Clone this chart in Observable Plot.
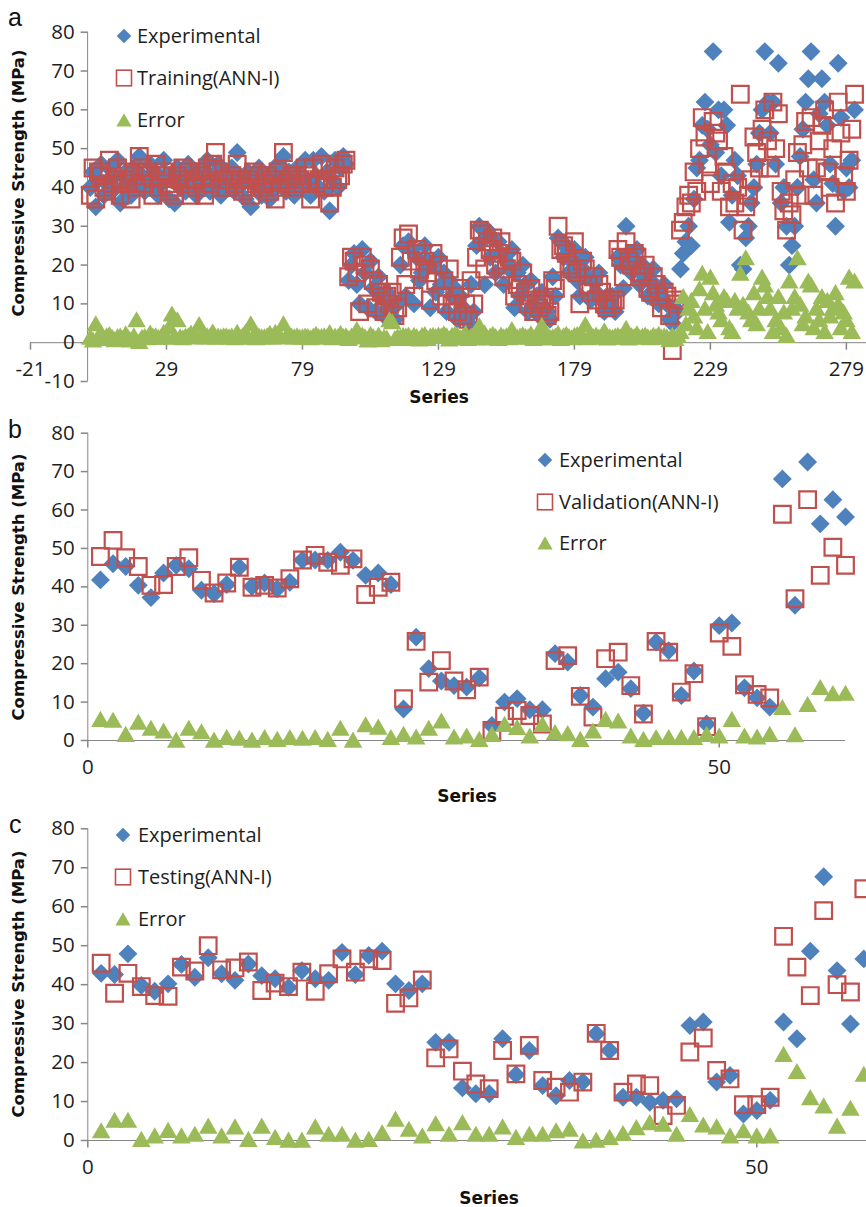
<!DOCTYPE html>
<html><head><meta charset="utf-8">
<script src="https://cdn.jsdelivr.net/npm/d3@7"></script>
<script src="https://cdn.jsdelivr.net/npm/@observablehq/plot@0.6"></script>
<style>
html,body{margin:0;padding:0;background:#fff;}
#wrap{position:relative;width:866px;height:1207px;overflow:hidden;background:#fff;}
.panel{position:absolute;left:0;}
#overlay{position:absolute;left:0;top:0;pointer-events:none;}
</style></head>
<body><div id="wrap"></div>
<script>
// ---------- Panel a : Training (ANN-I) ----------
const expA = [
40,44,35,42,46,38,41,45,39,43, 47,36,40,44,42,38,45,41,48,43, 39,42,46,40,44,38,41,47,43,37,
42,36,45,40,43,39,46,41,44,38, 42,45,40,47,39,43,41,46,38,44, 42,40,45,39,49,43,41,37,44,35,
42,40,45,38,43,41,37,44,40,46, 42,48,39,44,41,38,45,40,43,47, 41,38,47,43,40,48,39,44,34,42,
47,40,45,48,46,
16,20,23,15,10,24,18,9,21,14,8,17,12,7,13,9,11,6,10,
20,25,12,26,24,10,22,16,18,25,21,9,20,13,22,15,18,8,16,12,14,6,12,9,7,5,
15,8,25,30,26,15,29,22,27,18,26,23,15,21,19,24,9,18,12,20,15,8,16,10,12,7,13,9,8,6,
17,12,27,26,22,25,18,21,24,16,12,19,22,17,11,16,13,18,11,8,12,10,
12,8,22,20,14,30,23,18,21,24,15,20,17,12,16,19,14,10,12,15,10,6,5,9,
8,19,23,26,30,25,37,45,47,56,62,55,51,75,
49,60,43,60,56,31,38,47,43,20,19,27,30,36,40,46,54,60,75,62,
54,62,46,72,36,40,30,20,25,30,40,48,55,62,68,75,
42,36,59,68,62,56,46,41,30,72,58,39,45,40,47,60];
const trainA = [
38,45,37,44,43,40,39,47,41,42, 45,38,42,41,44,37,43,40,48,45, 41,44,43,38,46,40,43,44,41,39,
40,38,43,42,45,41,44,38,42,40, 44,43,38,45,41,46,49,44,40,42, 40,42,43,41,46,42,39,40,42,38,
44,41,43,40,41,43,39,42,37,44, 40,49,41,42,43,40,43,42,41,45, 43,37,45,41,42,46,40,42,36,40,
45,42,43,46,47,
17,22,21,18,8,22,20,10,19,16,9,15,13,8,12,10,13,7,9,
22,27,15,28,21,12,24,19,23,21,18,11,23,16,20,12,16,10,19,10,12,8,14,7,10,6,
16,10,22,29,28,19,26,24,27,20,23,26,17,19,22,21,12,15,14,18,13,10,14,8,11,9,10,11,7,8,
16,14,30,24,25,23,20,19,26,18,10,21,19,15,13,17,11,15,13,10,9,11,
10,11,24,22,17,26,21,20,23,22,17,18,20,14,13,17,15,12,9,13,12,7,-2,11,
10,29,31,35,38,36,44,39,50,58,53,46,41,57,
54,52,39,48,44,35,41,36,40,64,29,35,38,42,53,49,45,55,60,52,
45,62,50,59,39,34,29,36,33,42,49,38,51,57,45,58,
38,45,52,56,60,44,40,50,36,62,54,43,39,47,55,64];
const errA = [
1.5,0.8,5,1.8,2.5,1.2,1.9,2.2,1.5,0.9, 1.6,1.8,1.2,2.4,1.3,0.8,1.9,6,0.4,1.5, 1.7,1.4,2.6,1.8,1.9,1.5,1.6,2.8,1.5,4.2,
7.5,1.8,6,1.6,1.4,1.8,1.9,2.6,1.8,1.6, 4.8,1.8,1.6,1.9,1.7,2.9,1.5,1.8,1.6,1.9, 1.9,1.6,1.8,1.4,2.8,1.5,1.9,2.8,1.6,5,
1.9,1.4,1.8,1.6,1.6,1.9,2.5,1.6,2.8,1.8, 1.6,5,1.7,1.8,1.8,1.6,1.9,1.5,1.6,1.8, 1.7,1.4,1.8,2.3,1.6,1.7,1.9,1.6,2.7,1.4,
1.8,1.6,2.5,1.7,1.9,
1.2,1.8,2.2,3.5,2.0,2.1,1.6,0.8,2.3,1.7,1.1,2.1,0.9,1.5,1.3,6,5.5,1.2,1.6,
1.5,2.0,1.8,2.1,1.2,2.0,1.6,1.1,2.0,2.2,1.2,1.8,2.0,1.7,2.1,1.8,2.4,1.9,1.1,2.0,2.3,2.1,1.4,1.7,2.5,1.2,
1.8,2.2,1.4,4.5,1.9,2.6,1.3,1.8,2.3,1.7,1.2,2.1,1.6,1.9,1.4,3.5,2.0,1.5,1.8,2.2,1.7,1.6,2.4,1.2,1.9,1.6,4.6,1.8,1.3,1.5,
1.6,1.8,2.5,1.2,1.9,2.3,1.7,1.4,2.0,2.2,1.6,1.9,4.8,1.4,2.0,1.7,2.1,1.5,1.9,3.2,1.3,1.6,
1.5,1.8,2.0,1.6,2.2,3.8,1.3,1.9,1.7,2.4,1.5,1.8,2.1,1.6,1.4,2.0,1.7,2.3,1.5,1.8,1.6,0.9,2,1.2,
2,3,12,5,9,11,7,4,14,18,9,3,17,13,
10,8,6,12,11,4,3,11,9,18,10,22,8,6,13,5,9,17,15,12,
9,3,6,12,4,8,2,16,9,12,22,10,5,7,16,15,
4,9,6,12,3,11,7,9,13,10,4,8,6,17,3,16];
const seriesA = d3.range(1, expA.length + 1);
const xTicksA = [-21, 29, 79, 129, 179, 229, 279];
const yTicksA = [-10, 0, 10, 20, 30, 40, 50, 60, 70, 80];

// ---------- Panel b : Validation (ANN-I) ----------
const expB = [41.8,46.0,45.3,40.4,37.2,43.6,45.6,44.7,39.1,38.2, 40.6,45.1,40.1,41.0,39.5,41.2,47.0,47.0,46.9,49.0,
46.9,43.0,43.6,40.6,8.2,26.9,18.7,15.5,14.3,13.9, 16.3,3.9,10.0,10.9,8.0,8.0,22.6,20.4,11.7,8.7,
16.1,17.8,13.5,7.1,25.6,23.4,11.7,18.1,4.3,29.9, 30.6,13.7,11.1,8.7,68.1,35.2,72.5,56.4,62.7,58.2];
const valB = [47.9,52.1,47.6,45.3,40.4,40.6,45.3,47.6,41.7,38.4, 41.0,45.1,39.9,40.4,39.7,42.1,47.0,48.2,46.4,45.6,
47.3,38.0,39.9,41.2,10.9,25.8,15.2,20.8,15.5,13.2, 16.5,2.6,6.3,7.8,6.5,4.3,20.8,22.1,11.5,6.1,
21.3,23.0,14.3,6.9,25.8,23.0,12.6,17.4,3.6,28.0, 24.5,14.5,12.0,11.1,58.9,36.9,62.7,43.0,50.3,45.6];
const errB = [5.6,5.4,1.7,4.9,3.3,2.6,0.2,3.3,2.4,0.2, 0.9,0.7,0.2,0.9,0.4,0.9,0.7,0.9,0.4,3.3,
0.2,4.2,3.6,0.9,1.7,1.0,3.3,5.2,1.0,1.3, 0.4,1.7,4.3,3.5,1.3,4.3,2.2,1.9,0.4,2.6,
5.6,5.2,1.3,0.4,0.9,0.9,0.9,0.9,1.7,1.3, 5.6,1.3,1.0,1.7,8.7,1.6,9.5,13.9,12.3,12.4];
const seriesB = d3.range(1, expB.length + 1);
const xTicksB = [0, 50];
const yTicksB = [0, 10, 20, 30, 40, 50, 60, 70, 80];

// ---------- Panel c : Testing (ANN-I) ----------
const expC = [42.9,42.6,47.9,39.8,38.3,40.2,45.2,41.9,46.9,42.8, 41.1,45.3,42.3,41.5,39.3,43.6,41.5,41.1,48.3,42.6,
47.5,48.6,40.2,38.5,40.2,25.2,25.2,13.5,12.0,12.0, 26.1,16.9,23.1,14.1,11.5,15.4,15.0,27.4,23.1,11.1,
11.1,9.8,10.3,10.7,29.5,30.4,15.0,16.7,6.8,7.7, 10.3,30.4,26.1,48.6,67.7,43.6,29.9,46.6];
const testC = [45.5,37.8,42.9,39.5,37.2,37.0,44.5,43.5,50.0,43.8, 44.3,45.8,38.5,40.4,39.5,43.2,38.3,42.8,46.6,43.2,
46.6,46.2,35.2,36.6,41.2,21.2,23.5,17.8,14.5,13.3, 23.1,17.1,24.4,15.4,13.7,12.4,15.0,27.5,23.1,12.4,
14.5,14.1,6.4,9.0,22.7,26.3,18.0,15.8,9.2,9.2, 11.1,52.4,44.5,37.2,59.0,40.0,38.1,64.6];
const errC = [2.6,5.3,5.3,0.4,1.3,2.7,1.3,1.7,3.8,1.3, 3.6,0.4,3.8,0.9,0.2,0.2,3.6,1.7,1.7,0.2,
0.4,2.1,5.6,3.0,1.3,4.4,1.7,4.7,1.7,1.7, 3.6,0.9,1.7,1.7,2.6,3.0,0,0.2,0.9,1.9,
3.4,4.7,4.3,1.7,6.8,4.1,3.6,1.3,2.6,1.3, 1.3,22.2,17.8,11.1,9.0,3.8,8.4,17.1];
const seriesC = d3.range(1, expC.length + 1);
const xTicksC = [0, 50];
const yTicksC = [0, 10, 20, 30, 40, 50, 60, 70, 80];

// ---------- styles ----------
const BLUE = "#4F81BD", RED = "#C0504D", GREEN = "#9BBB59", AXIS = "#868686", INK = "#1e1e1e";
const TICKFONT = "'Open Sans', sans-serif";
const tickLeft = {draw(ctx) { ctx.moveTo(-7, 0); ctx.lineTo(0, 0); }};
const tickDown = {draw(ctx) { ctx.moveTo(0, 0); ctx.lineTo(0, 7); }};

function drawPanel(c) {
  const idx = d3.range(c.exp.length);
  return Plot.plot({
    width: 866, height: c.height,
    marginTop: c.mt, marginBottom: c.mb, marginLeft: c.ml, marginRight: c.mr,
    x: {domain: c.xDomain, axis: null},
    y: {domain: c.yDomain, axis: null},
    style: {background: "transparent", overflow: "hidden"},
    marks: [
      Plot.ruleX([0], {y1: c.yDomain[0], y2: c.yDomain[1], stroke: AXIS}),
      Plot.ruleY([0], {x1: c.xDomain[0], x2: c.xAxisEnd, stroke: AXIS}),
      Plot.dot(c.yTicks, {x: 0, y: d => d, symbol: tickLeft, r: 3, stroke: AXIS, fill: "none"}),
      Plot.dot(c.xTicks, {x: d => d, y: 0, symbol: tickDown, r: 3, stroke: AXIS, fill: "none"}),
      Plot.dot(idx, {x: i => c.series[i], y: i => c.exp[i], symbol: "diamond2", r: 8.5, fill: BLUE, stroke: "none"}),
      Plot.dot(idx, {x: i => c.series[i], y: i => c.pred[i], symbol: "square", r: 9.4, fill: "none", stroke: RED, strokeWidth: 2.2}),
      Plot.dot(idx, {x: i => c.series[i], y: i => c.err[i], symbol: "triangle", r: 6.9, fill: GREEN, stroke: "none", dy: 2.6}),
      Plot.text(c.yTicks, {x: 0, y: d => d, text: d => String(d), textAnchor: "end", lineAnchor: "middle", dx: -13,
        fontSize: 20.5, fontFamily: TICKFONT, fill: INK}),
      Plot.text(c.xTicks, {x: d => d, y: 0, text: d => String(d), lineAnchor: "middle", dy: 26.5,
        fontSize: 20.5, fontFamily: TICKFONT, fill: INK})
    ]
  });
}

const panels = [
  {top: 0, height: 400, mt: 31.7, mb: 19, ml: 30, mr: 0, xDomain: [-21, 286.4], yDomain: [-10, 80], xAxisEnd: 286.4,
   xTicks: xTicksA, yTicks: yTicksA, series: seriesA, exp: expA, pred: trainA, err: errA},
  {top: 400, height: 405, mt: 32.7, mb: 65, ml: 87.3, mr: 21, xDomain: [0, 60], yDomain: [0, 80], xAxisEnd: 60,
   xTicks: xTicksB, yTicks: yTicksB, series: seriesB, exp: expB, pred: valB, err: errB},
  {top: 805, height: 402, mt: 23.3, mb: 67, ml: 87.3, mr: 0, xDomain: [0, 58.2], yDomain: [0, 80], xAxisEnd: 58.2,
   xTicks: xTicksC, yTicks: yTicksC, series: seriesC, exp: expC, pred: testC, err: errC}
];

const wrap = document.getElementById("wrap");
for (const p of panels) {
  const svg = drawPanel(p);
  svg.classList.add("panel");
  svg.style.top = p.top + "px";
  wrap.appendChild(svg);
}

// ---------- overlay: panel letters, axis titles, legends ----------
const ov = d3.select(wrap).append("svg").attr("id", "overlay").attr("width", 866).attr("height", 1207);
const letters = [{t: "a", x: 8, y: 26}, {t: "b", x: 8, y: 438}, {t: "c", x: 9, y: 833}];
ov.selectAll("text.letter").data(letters).join("text").attr("class", "letter")
  .attr("x", d => d.x).attr("y", d => d.y).text(d => d.t)
  .attr("font-family", "'Liberation Sans', sans-serif").attr("font-size", 25).attr("fill", "#111");

const yTitles = [183, 587, 984];
ov.selectAll("text.ytitle").data(yTitles).join("text").attr("class", "ytitle")
  .attr("transform", d => `translate(24,${d}) rotate(-90)`).attr("text-anchor", "middle")
  .attr("font-family", "'DejaVu Sans', sans-serif").attr("font-weight", "bold").attr("font-size", 16.5)
  .attr("fill", "#111").text("Compressive Strength (MPa)");

const xTitles = [{x: 439, y: 403}, {x: 467, y: 802}, {x: 489, y: 1204}];
ov.selectAll("text.xtitle").data(xTitles).join("text").attr("class", "xtitle")
  .attr("x", d => d.x).attr("y", d => d.y).attr("text-anchor", "middle")
  .attr("font-family", "'DejaVu Sans', sans-serif").attr("font-weight", "bold").attr("font-size", 17)
  .attr("fill", "#111").text("Series");

const legends = [
  {sx: 124, tx: 137, ys: [36, 78, 120], labels: ["Experimental", "Training(ANN-I)", "Error"]},
  {sx: 545, tx: 559, ys: [460, 502, 543], labels: ["Experimental", "Validation(ANN-I)", "Error"]},
  {sx: 123, tx: 138, ys: [835, 877, 919], labels: ["Experimental", "Testing(ANN-I)", "Error"]}
];
for (const L of legends) {
  ov.append("path").attr("transform", `translate(${L.sx},${L.ys[0]})`)
    .attr("d", d3.symbol(d3.symbolDiamond2, 135)()).attr("fill", BLUE);
  ov.append("rect").attr("x", L.sx - 7.5).attr("y", L.ys[1] - 7.8).attr("width", 15).attr("height", 15.6)
    .attr("fill", "none").attr("stroke", RED).attr("stroke-width", 1.6);
  ov.append("path").attr("transform", `translate(${L.sx},${L.ys[2] + 2})`)
    .attr("d", d3.symbol(d3.symbolTriangle, 100)()).attr("fill", GREEN);
  L.labels.forEach((lab, k) => {
    ov.append("text").attr("x", L.tx).attr("y", L.ys[k] + 7).text(lab)
      .attr("font-family", TICKFONT).attr("font-size", 20).attr("fill", INK);
  });
}
</script>
</body></html>
